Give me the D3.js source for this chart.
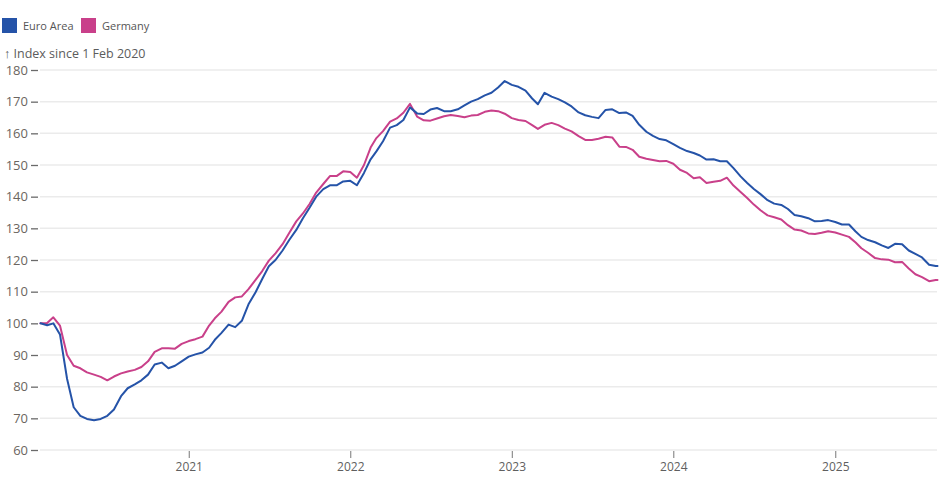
<!DOCTYPE html>
<html>
<head>
<meta charset="utf-8">
<script src="https://cdn.jsdelivr.net/npm/d3@7"></script>
<style>
  html, body { margin: 0; padding: 0; background: #fff; }
  svg { display: block; font-family: "Open Sans", "Noto Sans", sans-serif; }
</style>
</head>
<body>
<svg id="chart" width="944" height="483"></svg>
<script>
// ---- Data ----
const seriesNames = ["Euro Area", "Germany"];
const seriesColors = ["#2553a8", "#c9408a"];

const dates = [
  "2020-02-01","2020-02-16","2020-03-01","2020-03-16","2020-04-01","2020-04-16","2020-05-01","2020-05-16",
  "2020-06-01","2020-06-16","2020-07-01","2020-07-16","2020-08-01","2020-08-16","2020-09-01","2020-09-16",
  "2020-10-01","2020-10-16","2020-11-01","2020-11-16","2020-12-01","2020-12-16",
  "2021-01-01","2021-01-16","2021-02-01","2021-02-16","2021-03-01","2021-03-16","2021-04-01","2021-04-16",
  "2021-05-01","2021-05-16","2021-06-01","2021-06-16","2021-07-01","2021-07-16","2021-08-01","2021-08-16",
  "2021-09-01","2021-09-16","2021-10-01","2021-10-16","2021-11-01","2021-11-16","2021-12-01","2021-12-16",
  "2022-01-01","2022-01-16","2022-02-01","2022-02-16","2022-03-01","2022-03-16","2022-04-01","2022-04-16",
  "2022-05-01","2022-05-16","2022-06-01","2022-06-16","2022-07-01","2022-07-16","2022-08-01","2022-08-16",
  "2022-09-01","2022-09-16","2022-10-01","2022-10-16","2022-11-01","2022-11-16","2022-12-01","2022-12-16",
  "2023-01-01","2023-01-16","2023-02-01","2023-02-16","2023-03-01","2023-03-16","2023-04-01","2023-04-16",
  "2023-05-01","2023-05-16","2023-06-01","2023-06-16","2023-07-01","2023-07-16","2023-08-01","2023-08-16",
  "2023-09-01","2023-09-16","2023-10-01","2023-10-16","2023-11-01","2023-11-16","2023-12-01","2023-12-16",
  "2024-01-01","2024-01-16","2024-02-01","2024-02-16","2024-03-01","2024-03-16","2024-04-01","2024-04-16",
  "2024-05-01","2024-05-16","2024-06-01","2024-06-16","2024-07-01","2024-07-16","2024-08-01","2024-08-16",
  "2024-09-01","2024-09-16","2024-10-01","2024-10-16","2024-11-01","2024-11-16","2024-12-01","2024-12-16",
  "2025-01-01","2025-01-16","2025-02-01","2025-02-16","2025-03-01","2025-03-16","2025-04-01","2025-04-16",
  "2025-05-01","2025-05-16","2025-06-01","2025-06-16","2025-07-01","2025-07-16","2025-08-01","2025-08-16",
  "2025-08-20"
];

const euroArea = [
  100, 99.4, 100, 96.5, 82.5, 73.5, 70.8, 69.8,
  69.4, 69.8, 70.8, 72.8, 77, 79.5, 80.7, 82,
  83.8, 87, 87.6, 85.8, 86.6, 88,
  89.5, 90.2, 90.8, 92.3, 94.8, 97, 99.6, 98.8,
  100.8, 106, 109.8, 114, 118, 120, 123, 126.3,
  129.5, 133.2, 136.5, 140, 142.4, 143.6, 143.6, 144.8,
  145, 143.6, 147.5, 151.8, 154.3, 157.5, 161.8, 162.6,
  164.2, 168.2, 166.3, 166.1, 167.5, 168, 167, 167,
  167.6, 168.8, 170, 170.8, 172, 172.8, 174.5, 176.5,
  175.3, 174.7, 173.5, 171, 169.2, 172.8, 171.6, 170.8,
  169.8, 168.5, 166.6, 165.7, 165.2, 164.8, 167.4, 167.6,
  166.4, 166.6, 165.5, 162.7, 160.5, 159.2, 158.2, 157.8,
  156.6, 155.4, 154.4, 153.8, 153, 151.7, 151.8, 151.2,
  151.2, 149, 146.4, 144.3, 142.4, 140.8, 138.9, 137.8,
  137.4, 136.1, 134.2, 133.8, 133.2, 132.2, 132.3, 132.6,
  132, 131.2, 131.2, 129, 127.3, 126.3, 125.6, 124.6,
  123.8, 125.1, 125, 123, 121.9, 120.8, 118.5, 118.1,
  118.1
];

const germany = [
  100, 100.1, 101.9, 99.3, 90, 86.6, 85.8, 84.5,
  83.8, 83.1, 82, 83.2, 84.2, 84.8, 85.3, 86.2,
  88, 91, 92.1, 92.1, 92, 93.5,
  94.4, 95, 95.8, 99.3, 101.6, 103.7, 106.8, 108.2,
  108.5, 110.8, 113.7, 116.5, 119.8, 122.1, 125, 128.5,
  132.2, 134.7, 137.7, 141.3, 144, 146.5, 146.5, 148,
  147.8, 146, 150, 155.5, 158.5, 160.7, 163.7, 164.7,
  166.5, 169.3, 165.3, 164.1, 164, 164.7, 165.4, 165.8,
  165.5, 165.1, 165.6, 165.8, 166.8, 167.2, 167, 166.2,
  164.8, 164.2, 163.9, 162.6, 161.4, 162.7, 163.3, 162.6,
  161.5, 160.6, 159.1, 157.9, 157.9, 158.3, 158.9, 158.7,
  155.8, 155.7, 154.8, 152.6, 152, 151.6, 151.2, 151.3,
  150.4, 148.5, 147.5, 145.8, 146.1, 144.3, 144.7, 145,
  146, 143.5, 141.5, 139.6, 137.5, 135.7, 134.1, 133.5,
  132.8, 131, 129.6, 129.3, 128.4, 128.2, 128.6, 129.1,
  128.7, 128, 127.3, 125.5, 123.7, 122.3, 120.6, 120.2,
  120.1, 119.3, 119.4, 117.3, 115.5, 114.6, 113.3, 113.7,
  113.7
];

const yTickValues = [60, 70, 80, 90, 100, 110, 120, 130, 140, 150, 160, 170, 180];
const xTickLabels = ["2021", "2022", "2023", "2024", "2025"];
const axisTitle = "\u2191 Index since 1 Feb 2020";

// ---- Layout ----
const svg = d3.select("#chart");
const plotLeft = 40.5, plotRight = 937.5, plotTop = 70, plotBottom = 450;
const parse = d3.utcParse("%Y-%m-%d");
const dateObjs = dates.map(parse);

const x = d3.scaleUtc()
  .domain([dateObjs[0], dateObjs[dateObjs.length - 1]])
  .range([plotLeft, plotRight]);
const y = d3.scaleLinear().domain([60, 180]).range([plotBottom, plotTop]);

// gridlines
svg.append("g")
  .selectAll("line")
  .data(yTickValues)
  .join("line")
  .attr("x1", 40).attr("x2", 937)
  .attr("y1", d => y(d)).attr("y2", d => y(d))
  .attr("stroke", "#ebebeb")
  .attr("stroke-width", 1.5);

// y axis
const yAxis = svg.append("g")
  .attr("transform", "translate(38,0)")
  .call(d3.axisLeft(y).tickValues(yTickValues).tickSize(7).tickPadding(3));
yAxis.select(".domain").remove();
yAxis.selectAll(".tick line").attr("stroke", "#6a6a6a").attr("stroke-width", 1.3);
yAxis.selectAll(".tick text")
  .attr("fill", "#6b6560")
  .style("font-size", "13px")
  .style("font-family", "'Open Sans', sans-serif");

// x axis
const xAxis = svg.append("g")
  .attr("transform", `translate(0,${plotBottom + 1})`)
  .call(d3.axisBottom(x)
    .tickValues(xTickLabels.map(s => parse(s + "-01-01")))
    .tickSize(7).tickPadding(4)
    .tickFormat(d3.utcFormat("%Y")));
xAxis.select(".domain").remove();
xAxis.selectAll(".tick line").attr("stroke", "#777").attr("stroke-width", 1);
xAxis.selectAll(".tick text")
  .attr("fill", "#5f5f5f")
  .style("font-size", "12px")
  .style("font-family", "'Open Sans', sans-serif");

// axis title
svg.append("text")
  .attr("x", 4).attr("y", 58)
  .attr("fill", "#5c5c5c")
  .style("font-size", "12.5px")
  .style("font-family", "'Open Sans', sans-serif")
  .text(axisTitle);

// lines
const allSeries = [euroArea, germany];
const line = d3.line()
  .x((d, i) => x(dateObjs[i]))
  .y(d => y(d))
  .curve(d3.curveLinear);

[1, 0].forEach(k => {
  svg.append("path")
    .datum(allSeries[k])
    .attr("fill", "none")
    .attr("stroke", seriesColors[k])
    .attr("stroke-width", 2)
    .attr("stroke-linejoin", "round")
    .attr("stroke-linecap", "round")
    .attr("d", line);
});

// legend
const legend = svg.append("g").attr("transform", "translate(2,18)");
const legendOffsets = [0, 79];
seriesNames.forEach((name, i) => {
  const g = legend.append("g").attr("transform", `translate(${legendOffsets[i]},0)`);
  g.append("rect").attr("width", 15).attr("height", 15).attr("fill", seriesColors[i]);
  g.append("text")
    .attr("x", 21).attr("y", 11.5)
    .attr("fill", "#555")
    .style("font-size", "11px")
    .style("font-family", "'Open Sans', sans-serif")
    .text(name);
});
</script>
</body>
</html>
